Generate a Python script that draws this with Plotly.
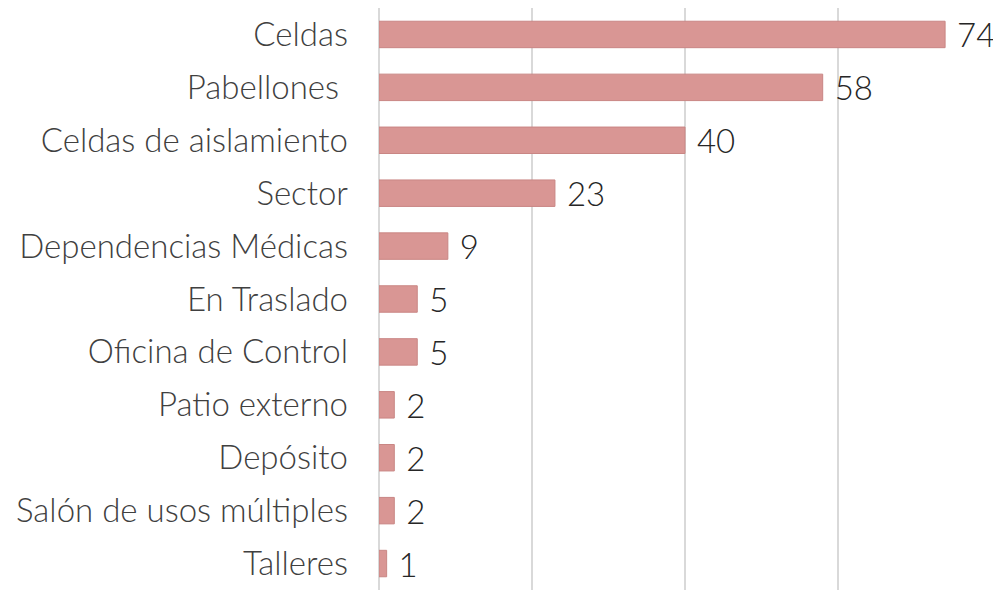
import plotly.graph_objects as go

categories = ["Celdas", "Pabellones ", "Celdas de aislamiento", "Sector",
              "Dependencias Médicas", "En Traslado", "Oficina de Control",
              "Patio externo", "Depósito", "Salón de usos múltiples", "Talleres"]
values = [74, 58, 40, 23, 9, 5, 5, 2, 2, 2, 1]

fig = go.Figure(go.Bar(
    y=categories, x=values, orientation="h",
    marker=dict(color="#d99694", line=dict(color="#c98684", width=1)),
    width=0.5,
    text=[" " + str(v) for v in values], textposition="outside",
    constraintext="none",
    textfont=dict(size=33, color="#262626", family="Lato", weight=300),
    cliponaxis=False,
))

fig.update_layout(
    width=993, height=582,
    margin=dict(l=371, r=10, t=0, b=0, autoexpand=False),
    paper_bgcolor="white", plot_bgcolor="white",
    font=dict(family="Lato", size=33, color="#404040", weight=300),
    showlegend=False,
    bargap=0.5,
)
fig.update_xaxes(range=[0, 80], dtick=20, showticklabels=False, automargin=False,
                 showgrid=True, gridcolor="#d9d9d9", gridwidth=1.5,
                 zeroline=True, zerolinecolor="#d9d9d9", zerolinewidth=1.5)
fig.update_yaxes(autorange="reversed", ticklabelstandoff=30, automargin=False,
                 showgrid=False,
                 tickfont=dict(size=33, color="#404040", family="Lato", weight=300))

fig.write_html("out.html")
